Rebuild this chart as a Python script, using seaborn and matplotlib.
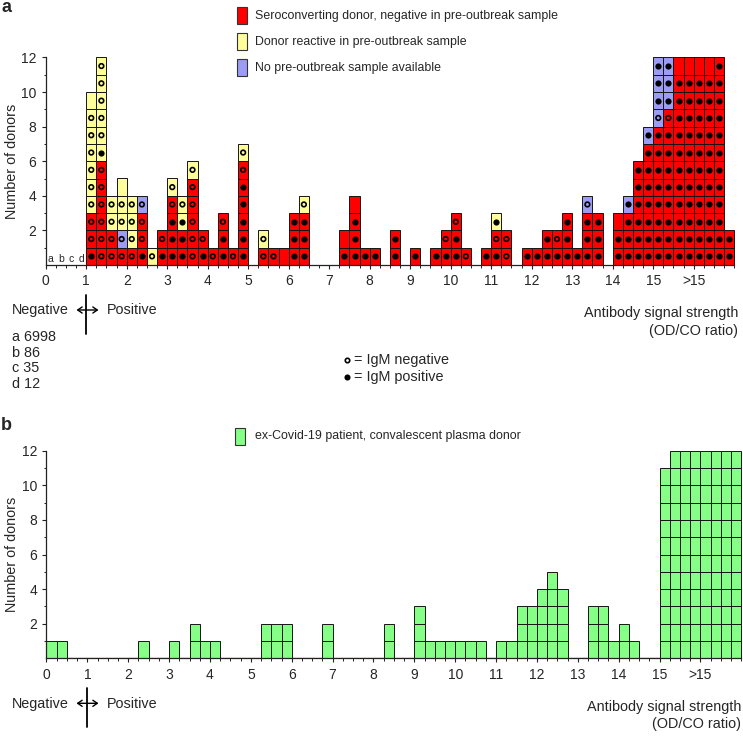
import pandas as pd
import seaborn as sns
import matplotlib.pyplot as plt
from matplotlib.patches import Rectangle, FancyArrowPatch
from matplotlib.lines import Line2D

W, H = 743, 738
BIN = 0.25

# ---- panel a: one entry per 0.25 bin from 1.0 up, cells listed bottom -> top
# colour: r = seroconverting, y = reactive pre-outbreak, b = no pre-outbreak sample
# IgM:    o = negative, x = positive, . = not marked
a_start = 1.0
a_bins = [
    "rx ro ro yo yo yo yo yo yo y.", "ro ro ro ro ro ro yx yo yo yo yo yo", "ro ro yo yo", "ro bo yo yo y.",
    "ro yo yo yo", "rx ro ro bo", "yo", "rx ro",
    "rx rx rx ro yo", "rx rx yx yo", "ro ro ro ro ro yo", "rx ro",
    "ro", "rx rx ro", "ro", "rx rx rx rx rx ro yo",
    "", "ro yo", "ro", "r.",
    "rx rx rx", "rx rx rx yo", "", "",
    "", "rx r.", "rx rx rx r.", "rx",
    "rx", "", "rx rx", "",
    "rx", "", "rx", "rx ro",
    "rx rx ro", "ro", "", "rx",
    "rx ro yx", "ro ro", "", "rx",
    "rx", "rx rx", "rx ro", "rx rx rx",
    "rx", "rx rx rx bo", "rx rx rx", "",
    "rx rx r.", "rx rx rx bx", "rx rx rx rx rx rx", "rx rx rx rx rx rx rx bx",
    "rx rx rx rx rx rx rx rx bo bx bx bx", "rx rx rx rx rx rx rx rx ro bx bx bx",
    "rx rx rx rx rx rx rx rx rx rx rx r.", "rx rx rx rx rx rx rx rx rx rx rx r.",
    "rx rx rx rx rx rx rx rx rx rx rx r.", "rx rx rx rx rx rx rx rx rx rx rx r.",
    "rx rx rx rx rx rx rx rx rx rx rx rx", "rx rx",
]
# bins below 1.0 are off the scale
low_labels = ["a", "b", "c", "d"]
low_counts = [6998, 86, 35, 12]

# ---- panel b: donors per 0.25 bin from 0 to 17
b_counts = [
    1, 1, 0, 0,  0, 0, 0, 0,  0, 1, 0, 0,  1, 0, 2, 1,
    1, 0, 0, 0,  0, 2, 2, 2,  0, 0, 0, 2,  0, 0, 0, 0,
    0, 2, 0, 0,  3, 1, 1, 1,  1, 1, 1, 0,  1, 1, 3, 3,
    4, 5, 4, 0,  0, 3, 3, 1,  2, 1, 0, 0,  11, 12, 12, 12,
    12, 12, 12, 12,
]

xtick_pos = list(range(17))
xtick_labels = ["0", "1", "2", "3", "4", "5", "6", "7", "8", "9", "10",
                "11", "12", "13", "14", "15", ">15"]

group_names = {
    "r": "Seroconverting donor, negative in pre-outbreak sample",
    "y": "Donor reactive in pre-outbreak sample",
    "b": "No pre-outbreak sample available",
}
group_colors = {"r": "#FF0000", "y": "#FFFF99", "b": "#9C9CF5"}
GREEN = "#86FF86"
EDGE = "#151515"

sns.set_theme(style="ticks")
plt.rcParams["font.family"] = ["Liberation Sans", "DejaVu Sans"]
plt.rcParams["font.size"] = 10


def fx(px):
    return px / W


def fy(py):
    return 1 - py / H


def style_axis(ax):
    sns.despine(ax=ax)
    ax.set_xlim(0, 17.05)
    ax.set_ylim(0, 12.5)
    ax.spines["left"].set_bounds(0, 12)
    ax.spines["bottom"].set_bounds(0, 17)
    for s in ("left", "bottom"):
        ax.spines[s].set_linewidth(0.9)
        ax.spines[s].set_color("#222222")
    ax.set_xticks(xtick_pos)
    ax.set_xticklabels(xtick_labels)
    ax.set_xticks([i * BIN for i in range(69)], minor=True)
    ax.set_yticks([2, 4, 6, 8, 10, 12])
    ax.set_yticks([1, 3, 5, 7, 9, 11], minor=True)
    ax.tick_params(which="major", length=3.2, width=0.8, color="#222222", labelsize=10, pad=3.5)
    ax.tick_params(which="minor", length=1.8, width=0.7, color="#222222")
    ax.set_xlabel("")
    ax.set_ylabel("")
    ax.set_facecolor("none")


fig = plt.figure(figsize=(W / 100, H / 100), dpi=100)
ax_a = fig.add_axes([fx(45.7), fy(265), 17.05 * 40.5 / W, 12.5 * 17.3 / H])
ax_b = fig.add_axes([fx(46.5), fy(658.3), 17.05 * 40.87 / W, 12.5 * 17.3 / H])

# ---------------- panel a ----------------
rows = []
for i, stack in enumerate(a_bins):
    left = a_start + i * BIN
    for level, tok in enumerate(stack.split()):
        rows.append({"left": left, "level": level, "group": tok[0], "igm": tok[1]})
cells = pd.DataFrame(rows)

for g, col in group_colors.items():
    sub = cells[cells["group"] == g]
    ax_a.bar(sub["left"], 1, bottom=sub["level"], width=BIN, align="edge",
             color=col, edgecolor=EDGE, linewidth=0.7, zorder=2)

neg = cells[cells["igm"] == "o"]
pos = cells[cells["igm"] == "x"]
sns.scatterplot(x=(neg["left"] + BIN / 2).values, y=(neg["level"] + 0.5).values, ax=ax_a,
                marker="o", s=11, facecolor="none", edgecolor="black", linewidth=1.2,
                zorder=3, legend=False)
sns.scatterplot(x=(pos["left"] + BIN / 2).values, y=(pos["level"] + 0.5).values, ax=ax_a,
                marker="o", s=20, color="black", linewidth=0, zorder=3, legend=False)

for i, lab in enumerate(low_labels):
    ax_a.text((i + 0.5) * BIN, 0.17, lab, ha="center", va="baseline", fontsize=7.5)

style_axis(ax_a)

# ---------------- panel b ----------------
donors = []
for i, n in enumerate(b_counts):
    for level in range(n):
        donors.append({"x": i * BIN + BIN / 2, "level": f"L{level}"})
donors_b = pd.DataFrame(donors)
levels = [f"L{k}" for k in range(12)]
sns.histplot(data=donors_b, x="x", hue="level", hue_order=levels, multiple="stack",
             binwidth=BIN, binrange=(0, 17), palette=[GREEN] * 12, alpha=1,
             edgecolor=EDGE, linewidth=0.7, legend=False, ax=ax_b, zorder=2)
for p in list(ax_b.patches):
    if p.get_height() == 0:
        p.remove()
# empty bins show a brownish-red baseline
empty = [i * BIN for i, n in enumerate(b_counts) if n == 0]
ax_b.hlines([0] * len(empty), empty, [e + BIN for e in empty], color="#9a3a32", lw=0.9, zorder=3)
style_axis(ax_b)

# ---------------- annotations ----------------
for ax, base in ((ax_a, 265), (ax_b, 658.3)):
    ax.plot([1, 1], [-29.5 / 17.3, -68.5 / 17.3], color="black", lw=1.3, clip_on=False)
    fig.text(fx(11.7), fy(base + 45.5), "Negative", ha="left", va="center", fontsize=10.4)
    fig.add_artist(FancyArrowPatch((fx(76.5), fy(base + 45)), (fx(98.5), fy(base + 45)),
                                   arrowstyle="<->,head_length=3.2,head_width=2.2", lw=1.0,
                                   color="black", transform=fig.transFigure,
                                   shrinkA=0, shrinkB=0))
    fig.text(fx(106.7), fy(base + 45.5), "Positive", ha="left", va="center", fontsize=10.4)
    fig.text(fx(12.5), fy(base - 104), "Number of donors", rotation=90,
             ha="center", va="center", fontsize=10.4)

fig.text(fx(738.3), fy(313.3), "Antibody signal strength", ha="right", va="center", fontsize=10.4)
fig.text(fx(738.3), fy(330.7), "(OD/CO ratio)", ha="right", va="center", fontsize=10.4)
fig.text(fx(741.5), fy(706.5), "Antibody signal strength", ha="right", va="center", fontsize=10.4)
fig.text(fx(741.5), fy(724), "(OD/CO ratio)", ha="right", va="center", fontsize=10.4)

low_y = [337.3, 352.6, 368.3, 384]
for lab, cnt, yy in zip(low_labels, low_counts, low_y):
    fig.text(fx(11.7), fy(yy), f"{lab} {cnt}", ha="left", va="center", fontsize=10.4)

# IgM key
fig.add_artist(Line2D([fx(346.7)], [fy(360)], marker="o", ms=3.2, mfc="none", mec="black",
                      mew=1.2, transform=fig.transFigure))
fig.add_artist(Line2D([fx(346.7)], [fy(376.7)], marker="o", ms=4.4, mfc="black", mec="black",
                      mew=0, transform=fig.transFigure))
fig.text(fx(354), fy(360), "= IgM negative", ha="left", va="center", fontsize=10.4)
fig.text(fx(354), fy(376.7), "= IgM positive", ha="left", va="center", fontsize=10.4)

# colour key, panel a
for k, (g, yy) in enumerate(zip(["r", "y", "b"], [15.5, 41.7, 67.7])):
    fig.add_artist(Rectangle((fx(237), fy(yy + 8.5)), 10 / W, 17 / H, facecolor=group_colors[g],
                             edgecolor="#333333", linewidth=0.8, transform=fig.transFigure))
    fig.text(fx(255), fy(yy), group_names[g], ha="left", va="center", fontsize=8.9)

# colour key, panel b
fig.add_artist(Rectangle((fx(235), fy(436 + 8.5)), 10 / W, 17 / H, facecolor=GREEN,
                         edgecolor="#333333", linewidth=0.8, transform=fig.transFigure))
fig.text(fx(255), fy(436), "ex-Covid-19 patient, convalescent plasma donor",
         ha="left", va="center", fontsize=8.9)

fig.text(fx(1), fy(8), "a", ha="left", va="center", fontsize=13, fontweight="bold")
fig.text(fx(1), fy(425), "b", ha="left", va="center", fontsize=13, fontweight="bold")

fig.savefig("out.png", dpi=100)
